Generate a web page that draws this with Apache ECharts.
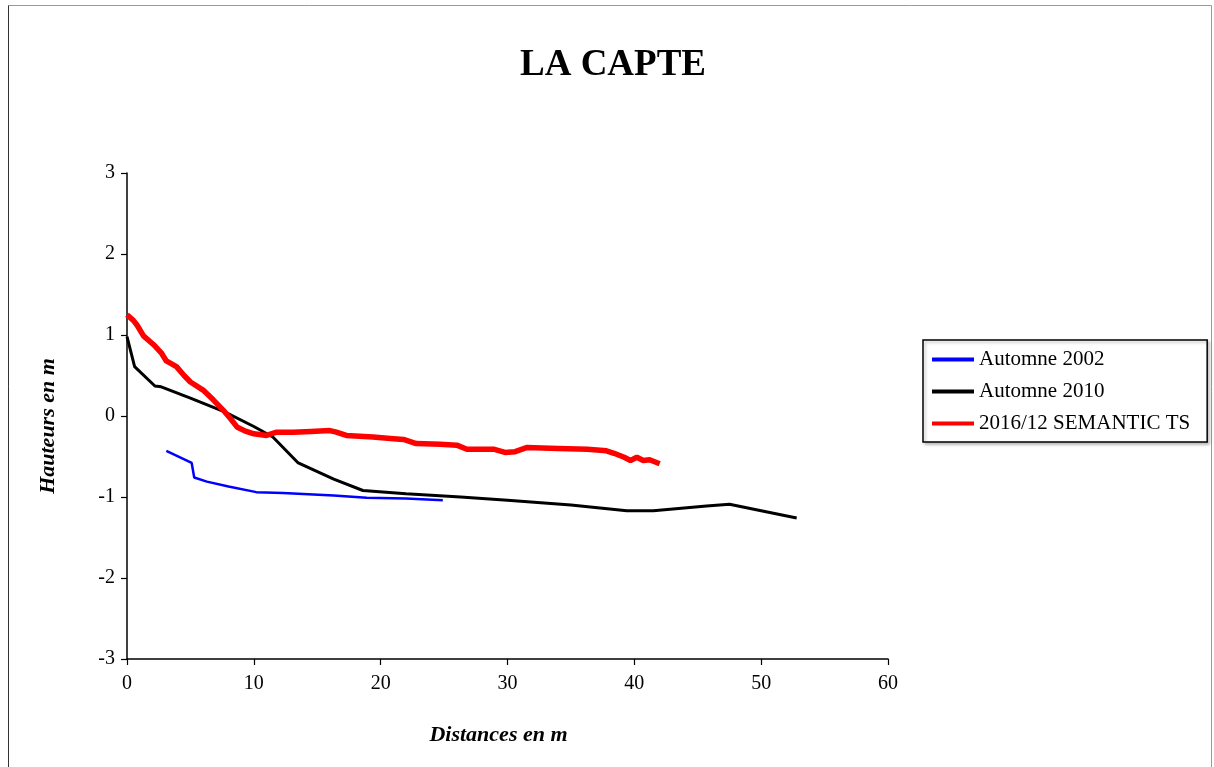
<!DOCTYPE html>
<html>
<head>
<meta charset="utf-8">
<script src="https://cdn.jsdelivr.net/npm/echarts@6/dist/echarts.min.js"></script>
<style>html,body{margin:0;padding:0;background:#fff;}#c{width:1214px;height:767px;}</style>
</head>
<body>
<div id="c"></div>
<script>
const titleText = 'LA CAPTE';
const xAxisName = 'Distances en m';
const yAxisName = 'Hauteurs en m';
const seriesNames = ['Automne 2002', 'Automne 2010', '2016/12 SEMANTIC TS'];
const seriesColors = ['#0000ff', '#000000', '#ff0000'];

const automne2002 = [
  [3.1,-0.43],[5.1,-0.58],[5.3,-0.76],[6.3,-0.81],[8.0,-0.87],[10.2,-0.94],[12.3,-0.95],
  [16.3,-0.98],[18.9,-1.01],[22.0,-1.02],[24.9,-1.04]
];
const automne2010 = [
  [0,0.98],[0.6,0.61],[2.2,0.37],[2.7,0.36],[5.0,0.22],[7.7,0.05],[10.0,-0.13],[11.5,-0.26],
  [13.5,-0.58],[16.3,-0.78],[18.6,-0.92],[22.0,-0.96],[26.3,-1.0],[30.0,-1.04],[35.0,-1.1],
  [39.4,-1.17],[41.5,-1.17],[45.7,-1.11],[47.5,-1.09],[50.0,-1.17],[52.8,-1.26]
];
const semantic2016 = [
  [0,1.25],[0.5,1.18],[0.8,1.12],[1.3,0.99],[2.1,0.88],[2.7,0.78],[3.1,0.68],[3.9,0.61],
  [4.5,0.5],[5.0,0.42],[6.0,0.32],[6.8,0.2],[7.6,0.07],[8.2,-0.04],[8.7,-0.14],[9.4,-0.19],
  [10.0,-0.22],[11.0,-0.24],[11.8,-0.2],[13.1,-0.2],[14.5,-0.19],[16.0,-0.18],[16.5,-0.2],
  [17.3,-0.24],[19.4,-0.26],[21.0,-0.28],[21.8,-0.29],[22.8,-0.34],[24.7,-0.35],[26.0,-0.36],
  [26.8,-0.41],[28.9,-0.41],[29.8,-0.45],[30.6,-0.44],[31.5,-0.39],[34.0,-0.4],[36.3,-0.41],
  [37.8,-0.43],[38.4,-0.46],[39.2,-0.51],[39.7,-0.55],[40.2,-0.51],[40.7,-0.55],[41.2,-0.54],[42.0,-0.59]
];
const seriesData = [automne2002, automne2010, semantic2016];
const seriesWidths = [2.5, 3, 5.5];

const serif = '"Liberation Serif", "DejaVu Serif", serif';
const chart = echarts.init(document.getElementById('c'));
chart.setOption({
  animation: false,
  backgroundColor: '#fff',
  title: {
    text: titleText, left: 515, top: 42,
    textStyle: {fontFamily: serif, fontSize: 37, fontWeight: 'bold', color: '#000'}
  },
  graphic: [{
    type: 'rect', silent: true, z: -1,
    shape: {x: 8.5, y: 5.5, width: 1203, height: 775},
    style: {fill: 'none', stroke: '#9a9a9a', lineWidth: 1}
  }, {
    type: 'line', silent: true, z: -1,
    shape: {x1: 8.5, y1: 5.5, x2: 8.5, y2: 767},
    style: {stroke: '#333', lineWidth: 1}
  }],
  legend: {
    orient: 'vertical', left: 923, top: 340,
    data: seriesNames,
    icon: 'rect', itemWidth: 42, itemHeight: 4, itemGap: 11,
    padding: [9, 17, 8, 9],
    borderColor: '#000', borderWidth: 1.5, backgroundColor: '#fff',
    shadowColor: 'rgba(0,0,0,0.25)', shadowBlur: 3, shadowOffsetX: 2, shadowOffsetY: 2,
    textStyle: {fontFamily: serif, fontSize: 21, color: '#000', padding: [0, 0, 0, 0]}
  },
  grid: {left: 127, top: 173, right: 326, bottom: 108, containLabel: false},
  xAxis: {
    type: 'value', min: 0, max: 60, interval: 10,
    name: xAxisName, nameLocation: 'middle', nameGap: 65,
    nameTextStyle: {fontFamily: serif, fontSize: 22, fontWeight: 'bold', fontStyle: 'italic', color: '#000', padding: [0, 18, 0, 0]},
    axisLine: {onZero: false, lineStyle: {color: '#000', width: 1.5}},
    axisTick: {inside: false, length: 6, lineStyle: {color: '#000', width: 1.2}},
    axisLabel: {fontFamily: serif, fontSize: 20, color: '#000', margin: 15},
    splitLine: {show: false}
  },
  yAxis: {
    type: 'value', min: -3, max: 3, interval: 1,
    name: yAxisName, nameLocation: 'middle', nameGap: 68, nameRotate: 90,
    nameTextStyle: {fontFamily: serif, fontSize: 22, fontWeight: 'bold', fontStyle: 'italic', color: '#000', padding: [0, 0, 0, -20]},
    axisLine: {show: true, onZero: false, lineStyle: {color: '#000', width: 1.5}},
    axisTick: {show: true, inside: false, length: 6, lineStyle: {color: '#000', width: 1.2}},
    axisLabel: {fontFamily: serif, fontSize: 20, color: '#000', margin: 12},
    splitLine: {show: false}
  },
  series: seriesNames.map((n, i) => ({
    name: n, type: 'line', data: seriesData[i], showSymbol: false, symbol: 'none',
    color: seriesColors[i],
    lineStyle: {color: seriesColors[i], width: seriesWidths[i]},
    z: 2 + i
  }))
});
</script>
</body>
</html>
